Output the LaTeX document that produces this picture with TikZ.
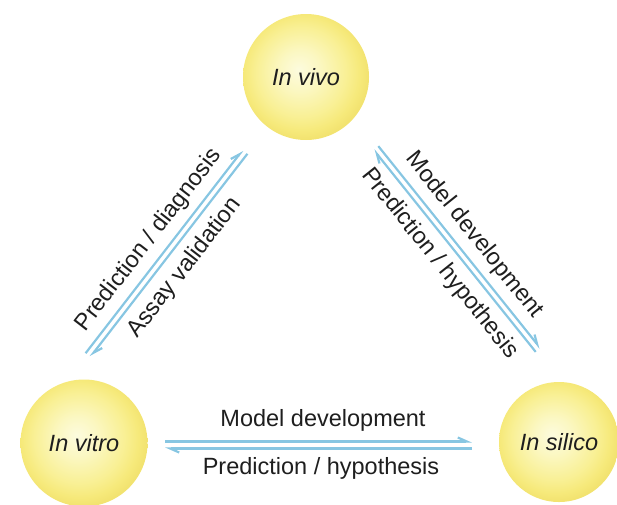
\documentclass[tikz,border=0pt]{standalone}
\usepackage{fontspec}
\setmainfont{Liberation Sans}
\usetikzlibrary{arrows.meta}
\pgfdeclareradialshading{yball}{\pgfpoint{-3bp}{3bp}}{rgb(0bp)=(0.99,0.985,0.87); rgb(8bp)=(0.985,0.97,0.76); rgb(18bp)=(0.975,0.94,0.58); rgb(23bp)=(0.965,0.915,0.48); rgb(26bp)=(0.95,0.89,0.44); rgb(50bp)=(0.95,0.89,0.44)}
\definecolor{relblue}{RGB}{135,198,226}
\definecolor{txt}{RGB}{30,30,30}
\tikzset{
  ball/.style={circle, shading=yball, inner sep=0pt, text=txt,
    font=\fontsize{23.5}{28}\selectfont\itshape},
  rel/.style={draw=relblue, line width=2.2pt,
    -{Straight Barb[left,length=9pt,width=8pt]}},
  lbl/.style={inner sep=0pt, text=txt, font=\fontsize{23.5}{28}\selectfont}
}
\begin{document}
\begin{tikzpicture}[x=1pt,y=-1pt]
\useasboundingbox (0,0) rectangle (617,504);
% circles
\node[ball, minimum size=126pt] (vivo) at (306,77) {In vivo};
\node[ball, minimum size=127pt] (vitro) at (84,443) {In vitro};
\node[ball, minimum size=120pt] (silico) at (559,442) {In silico};
% connector end points
\coordinate (l1a) at (85.6,353.2);  \coordinate (l1b) at (242.6,150.2);
\coordinate (l2a) at (247.4,153.8); \coordinate (l2b) at (90.4,356.8);
\coordinate (r1a) at (378.3,146.1); \coordinate (r1b) at (540.3,348.1);
\coordinate (r2a) at (535.7,351.9); \coordinate (r2b) at (373.7,149.9);
\coordinate (b1a) at (165,441.5);   \coordinate (b1b) at (472,441.5);
\coordinate (b2a) at (472,448.5);   \coordinate (b2b) at (165,448.5);
% connectors
\draw[rel] (l1a) -- (l1b);
\draw[rel] (l2a) -- (l2b);
\draw[rel] (r1a) -- (r1b);
\draw[rel] (r2a) -- (r2b);
\draw[rel] (b1a) -- (b1b);
\draw[rel] (b2a) -- (b2b);
% labels
\node[lbl, rotate=52.3] (lpd) at (149.1,240) {Prediction / diagnosis};
\node[lbl, rotate=52.3] (lav) at (185,268) {Assay validation};
\node[lbl, rotate=-51.3] (rmd) at (474.2,235.2) {Model development};
\node[lbl, rotate=-51.3] (rph) at (439.8,263.5) {Prediction / hypothesis};
\node[lbl] (bmd) at (323,420) {Model development};
\node[lbl] (bph) at (321,468) {Prediction / hypothesis};
\end{tikzpicture}
\end{document}
